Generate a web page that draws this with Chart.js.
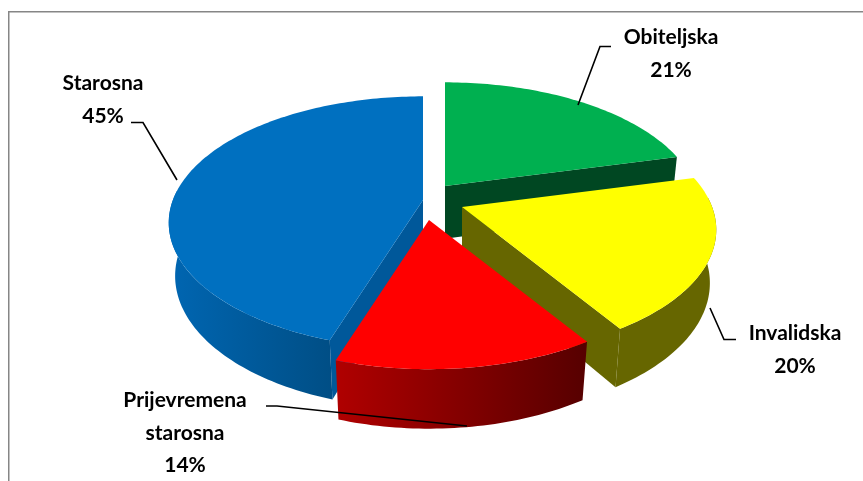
<!DOCTYPE html>
<html>
<head>
<meta charset="utf-8">
<style>
  html, body { margin: 0; padding: 0; background: #fff; }
  canvas { display: block; }
</style>
<script src="https://cdn.jsdelivr.net/npm/chart.js@4"></script>
</head>
<body>
<canvas id="pie" width="863" height="481"></canvas>
<script>
// Chart values, clockwise from 12 o'clock
const categories = ['Obiteljska', 'Invalidska', 'Prijevremena starosna', 'Starosna'];
const shares = [21, 20, 14, 45];

// Slice colours
const topColors = ['#00B050', '#FFFF00', '#FF0000', '#0070C0'];
const cutColors = ['#004722', '#666600', '#8a0000', '#00589A'];
const rimLeftColors = ['#004722', '#666600', '#B00000', '#0066B2'];
const rimRightColors = ['#004722', '#666600', '#560000', '#004E85'];

// Painted back to front
const paintOrder = [0, 3, 1, 2];

// Where the tip of each slice sits (the exploded look)
const sliceTips = [[445, 186], [462, 207], [429, 220], [423, 200]];

// Projection of the tilted pie
const radiusScale = 1.04;
const tilt = 0.489;
const perspective = 0.00072;
const thickness = 54;
const sink = 0.025;

// Label text lines and their anchors
const labelLines = [['Obiteljska'], ['Invalidska'], ['Prijevremena', 'starosna'], ['Starosna']];
const labelCentres = [671, 795, 185, 103];
const labelBaselines = [44, 340, 407, 90];
const labelLeading = 32.5;
const leaderLines = [
  [[611, 46.5], [600, 46.5], [578, 105]],
  [[736, 339.5], [724, 339.5], [710, 308]],
  [[266, 406], [277, 406], [467, 426]],
  [[131, 122.5], [143, 122.5], [177, 180]],
];

const HALF_PI = Math.PI / 2;

function project(tip, radius, angle, down) {
  const u = radius * Math.sin(angle);
  const v = -radius * Math.cos(angle);
  const w = 1 - perspective * v + (down ? sink : 0);
  return [tip[0] + u / w, tip[1] + (v * tilt + (down ? thickness : 0)) / w];
}

function fillPath(ctx, pts, fill) {
  ctx.beginPath();
  pts.forEach((p, i) => i ? ctx.lineTo(p[0], p[1]) : ctx.moveTo(p[0], p[1]));
  ctx.closePath();
  ctx.fillStyle = fill;
  ctx.fill();
}

function sweep(tip, radius, from, to, down) {
  const pts = [];
  const steps = Math.max(2, Math.ceil(Math.abs(to - from) / 0.02));
  for (let i = 0; i <= steps; i++) {
    pts.push(project(tip, radius, from + (to - from) * i / steps, down));
  }
  return pts;
}

function drawSlice(ctx, arc, i) {
  const tip = sliceTips[i];
  const radius = arc.outerRadius * radiusScale;
  const start = arc.startAngle + HALF_PI;
  const end = arc.endAngle + HALF_PI;

  // flat cut faces, only the ones turned to the viewer
  [[start, Math.sin(start) < -0.01], [end, Math.sin(end) > 0.01]].forEach(([angle, visible]) => {
    if (!visible) return;
    fillPath(ctx, [
      project(tip, 0, angle, false),
      project(tip, radius, angle, false),
      project(tip, radius, angle, true),
      project(tip, 0, angle, true),
    ], cutColors[i]);
  });

  // curved outer wall
  const wallFrom = Math.max(start, HALF_PI * 0.95);
  const wallTo = Math.min(end, HALF_PI * 3.05);
  if (wallTo > wallFrom) {
    const upper = sweep(tip, radius, wallFrom, wallTo, false);
    const lower = sweep(tip, radius, wallTo, wallFrom, true);
    const xs = upper.concat(lower).map(p => p[0]);
    const gradient = ctx.createLinearGradient(Math.min(...xs), 0, Math.max(...xs), 0);
    gradient.addColorStop(0, rimLeftColors[i]);
    gradient.addColorStop(1, rimRightColors[i]);
    fillPath(ctx, upper.concat(lower), gradient);
  }

  // top face
  fillPath(ctx, [project(tip, 0, start, false)].concat(sweep(tip, radius, start, end, false)), topColors[i]);
}

function drawLabels(ctx) {
  const total = shares.reduce((a, b) => a + b, 0);
  ctx.fillStyle = '#000';
  ctx.font = 'bold 21px Lato';
  ctx.textAlign = 'center';
  ctx.textBaseline = 'alphabetic';
  labelLines.forEach((lines, i) => {
    const texts = lines.concat(Math.round(shares[i] / total * 100) + '%');
    texts.forEach((text, n) => {
      ctx.fillText(text, labelCentres[i], labelBaselines[i] + n * labelLeading);
    });
  });
  ctx.strokeStyle = '#000';
  ctx.lineWidth = 1.6;
  leaderLines.forEach(line => {
    ctx.beginPath();
    line.forEach((p, n) => n ? ctx.lineTo(p[0], p[1]) : ctx.moveTo(p[0], p[1]));
    ctx.stroke();
  });
}

const tiltedPie = {
  id: 'tiltedPie',
  beforeDatasetsDraw(chart) {
    const ctx = chart.ctx;
    const arcs = chart.getDatasetMeta(0).data;
    ctx.save();
    // chart frame: only the left and top edges fall inside the picture
    ctx.strokeStyle = '#868686';
    ctx.lineWidth = 1.5;
    ctx.beginPath();
    ctx.moveTo(8.75, 481);
    ctx.lineTo(8.75, 11.75);
    ctx.lineTo(863, 11.75);
    ctx.stroke();
    paintOrder.forEach(i => drawSlice(ctx, arcs[i], i));
    drawLabels(ctx);
    ctx.restore();
    return false;
  }
};

new Chart(document.getElementById('pie'), {
  type: 'pie',
  data: {
    labels: categories,
    datasets: [{ data: shares, backgroundColor: topColors, borderWidth: 0 }]
  },
  options: {
    responsive: false,
    animation: false,
    layout: { padding: 0 },
    plugins: { legend: { display: false }, tooltip: { enabled: false } }
  },
  plugins: [tiltedPie]
});
</script>
</body>
</html>
